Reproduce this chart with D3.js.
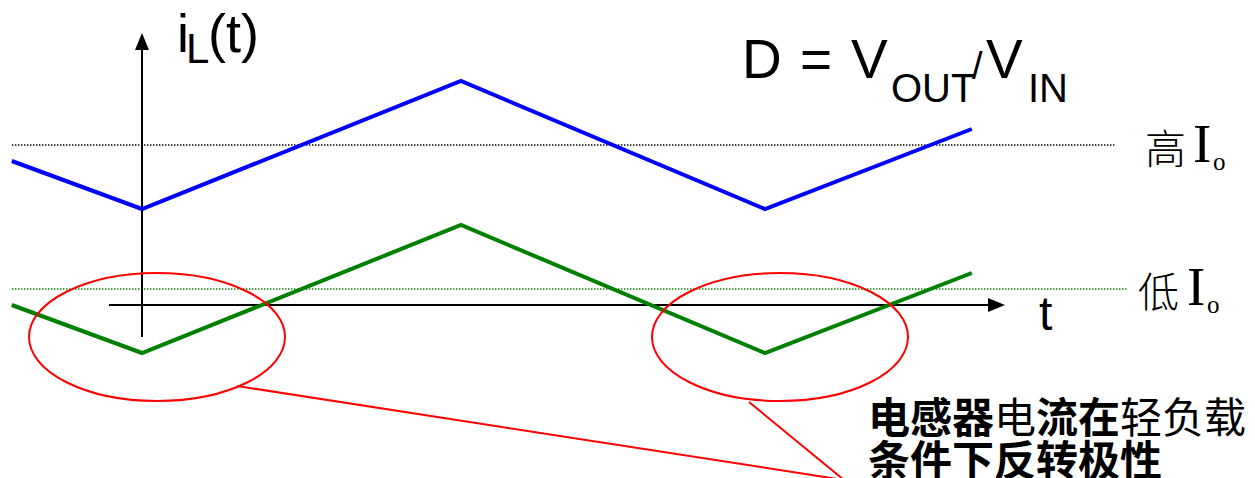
<!DOCTYPE html>
<html>
<head>
<meta charset="utf-8">
<script src="https://cdn.jsdelivr.net/npm/d3@7"></script>
<style>
  html, body { margin: 0; padding: 0; background: #fff; }
  svg { display: block; }
</style>
</head>
<body>
<svg id="chart" width="1255" height="478"></svg>
<script>
// Inductor current waveforms over time (time in switching periods, current in arbitrary units)
const timePoints = [-0.209, 0, 0.512, 1, 1.332];
const highLoadCurrent = [4.5, 3.0, 7.0, 3.0, 5.5];
const lowLoadCurrent = [0.0, -1.5, 2.5, -1.5, 1.0];
const averageCurrents = [5.0, 0.5];          // 高 Io, 低 Io
const seriesNames = ["高", "低"];
const valleyTimes = [0, 1];                   // instants where the light-load current goes negative
const valleyCurrent = -1.0;
const noteLines = [["电感器", "电", "流在", "轻负载"], ["条件下反转极性"]];
const noteBold = [[true, false, true, false], [true]];

const svg = d3.select("#chart");

const x = d3.scaleLinear().domain([0, 1]).range([142, 765]);
const y = d3.scaleLinear().domain([-4, 9]).range([433, 17]);

const sans = "'Liberation Sans', Arial, sans-serif";
const serif = "'Liberation Serif', 'Times New Roman', serif";
const cjk = "'Noto Sans CJK SC', sans-serif";

// Average-current reference lines (dotted)
const avgColors = ["#000000", "#008000"];
const avgEnds = [1115, 1127];
averageCurrents.forEach((v, i) => {
  svg.append("line")
    .attr("x1", 12).attr("x2", avgEnds[i])
    .attr("y1", y(v)).attr("y2", y(v))
    .attr("stroke", avgColors[i])
    .attr("stroke-width", 1.4)
    .attr("stroke-dasharray", "1.4,1.6");
});

// Axes with arrowheads
const axisColor = "#000";
svg.append("line")
  .attr("x1", x(0)).attr("x2", x(0))
  .attr("y1", y(-1)).attr("y2", 48)
  .attr("stroke", axisColor).attr("stroke-width", 2);
svg.append("path")
  .attr("d", `M${x(0)},33 L${x(0) - 7},50 L${x(0) + 7},50 Z`)
  .attr("fill", axisColor);

svg.append("line")
  .attr("x1", 109).attr("x2", 990)
  .attr("y1", y(0)).attr("y2", y(0))
  .attr("stroke", axisColor).attr("stroke-width", 2);
svg.append("path")
  .attr("d", `M1005,${y(0)} L988,${y(0) - 7} L988,${y(0) + 7} Z`)
  .attr("fill", axisColor);

// Current waveforms
const line = d3.line().x(d => x(d[0])).y(d => y(d[1]));
const waves = [
  { values: highLoadCurrent, color: "#0000ff" },
  { values: lowLoadCurrent, color: "#008000" }
];
waves.forEach(w => {
  svg.append("path")
    .datum(timePoints.map((t, i) => [t, w.values[i]]))
    .attr("d", line)
    .attr("fill", "none")
    .attr("stroke", w.color)
    .attr("stroke-width", 4)
    .attr("stroke-linejoin", "miter");
});

// Highlight ellipses around the negative-current valleys
const red = "#ff0000";
valleyTimes.forEach(t => {
  svg.append("ellipse")
    .attr("cx", x(t) + 15).attr("cy", y(valleyCurrent))
    .attr("rx", 128).attr("ry", 64)
    .attr("fill", "none")
    .attr("stroke", red).attr("stroke-width", 2);
});

// Callout lines to the note
const apex = [844, 480];
[[237, 386], [749, 402]].forEach(p => {
  svg.append("line")
    .attr("x1", p[0]).attr("y1", p[1])
    .attr("x2", apex[0]).attr("y2", apex[1])
    .attr("stroke", red).attr("stroke-width", 2);
});

// Axis titles
const yTitle = svg.append("text").attr("font-family", sans).attr("fill", "#000");
yTitle.append("tspan").attr("x", 177).attr("y", 52).attr("font-size", 54).text("i");
yTitle.append("tspan").attr("x", 186).attr("y", 63).attr("font-size", 42).text("L");
yTitle.append("tspan").attr("x", 208).attr("y", 52).attr("font-size", 54).text("(t)");

svg.append("text")
  .attr("x", 1039).attr("y", 330)
  .attr("font-family", sans).attr("font-size", 48)
  .text("t");

// Duty-cycle formula
const f = svg.append("text").attr("font-family", sans).attr("fill", "#000");
f.append("tspan").attr("x", 742).attr("y", 78).attr("font-size", 55).text("D");
f.append("tspan").attr("x", 800).attr("y", 78).attr("font-size", 55).text("=");
f.append("tspan").attr("x", 851).attr("y", 78).attr("font-size", 55).text("V");
f.append("tspan").attr("x", 891).attr("y", 101.5).attr("font-size", 40).text("OUT");
f.append("tspan").attr("x", 972).attr("y", 79).attr("font-size", 38).text("/");
f.append("tspan").attr("x", 986).attr("y", 78).attr("font-size", 55).text("V");
f.append("tspan").attr("x", 1028).attr("y", 101.5).attr("font-size", 40).text("IN");

// Series labels at the right
const labelPos = [[1145, 164, 1193, 162, 1213, 170], [1138, 307, 1187, 305, 1207, 313]];
seriesNames.forEach((name, i) => {
  const p = labelPos[i];
  svg.append("text")
    .attr("x", p[0]).attr("y", p[1])
    .attr("font-family", cjk).attr("font-size", 41).attr("font-weight", 300)
    .text(name);
  const io = svg.append("text").attr("font-family", serif).attr("fill", "#000");
  io.append("tspan").attr("x", p[2]).attr("y", p[3]).attr("font-size", 55).text("I");
  io.append("tspan").attr("x", p[4]).attr("y", p[5]).attr("font-size", 25).text("o");
});

// Explanatory note
noteLines.forEach((parts, li) => {
  const t = svg.append("text")
    .attr("x", 868).attr("y", 433 + li * 43)
    .attr("font-family", cjk).attr("font-size", 42).attr("fill", "#000");
  parts.forEach((s, j) => {
    t.append("tspan")
      .attr("font-weight", noteBold[li][j] ? 700 : 400)
      .text(s);
  });
});
</script>
</body>
</html>
